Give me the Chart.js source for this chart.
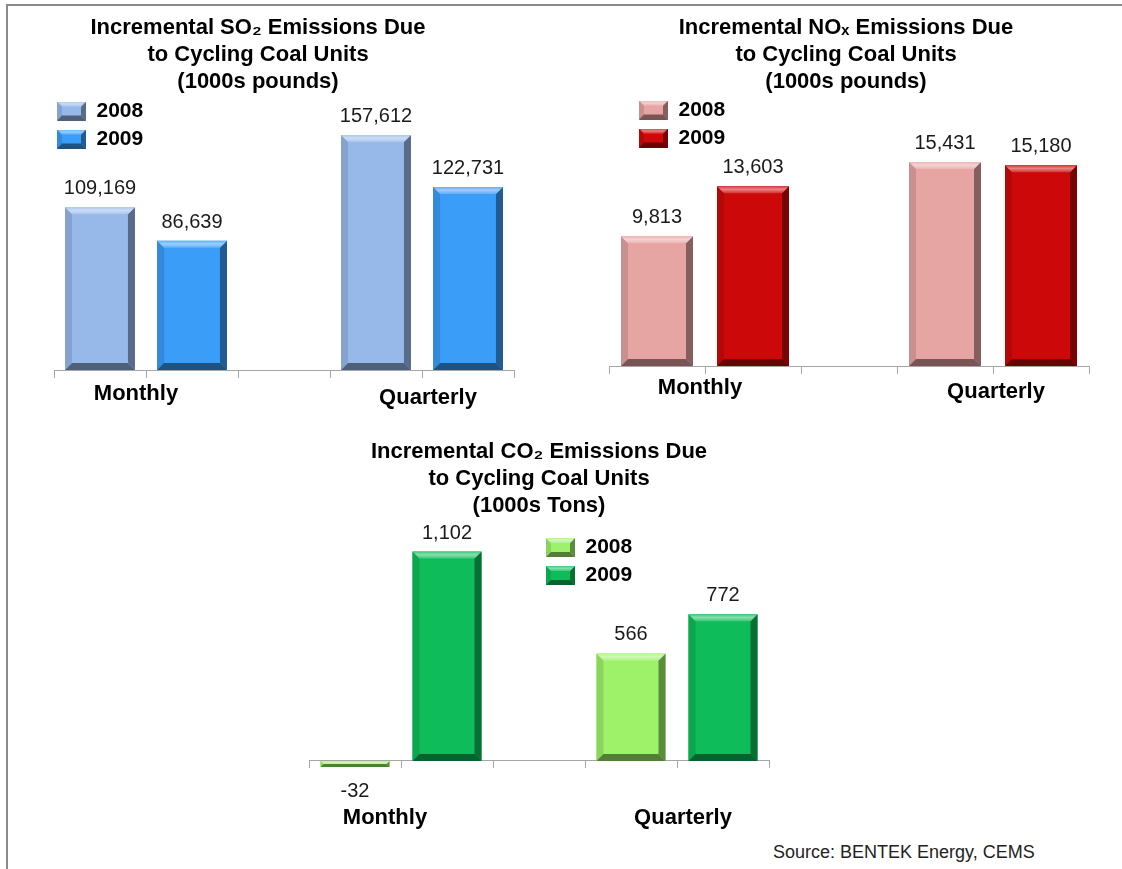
<!DOCTYPE html>
<html>
<head>
<meta charset="utf-8">
<script src="https://cdn.jsdelivr.net/npm/chart.js@4.4.0/dist/chart.umd.min.js"></script>
<style>
  body { margin: 0; background: #fff; }
  #page { position: relative; width: 1122px; height: 869px; overflow: hidden; background: #fff; }
  #frame { position: absolute; left: 6px; top: 4px; right: -10px; bottom: -10px;
           border-top: 2px solid #8a8a8a; border-left: 2px solid #8a8a8a; }
  canvas { position: absolute; }
  #source { position: absolute; left: 773px; top: 842px; font: 18px 'Liberation Sans', Arial, sans-serif; color: #222; }
</style>
</head>
<body>
<div id="page">
  <div id="frame"></div>
  <canvas id="so2Chart" width="540" height="420" style="left:0;top:0"></canvas>
  <canvas id="noxChart" width="540" height="420" style="left:560px;top:0"></canvas>
  <canvas id="co2Chart" width="540" height="420" style="left:280px;top:420px"></canvas>
  <div id="source">Source: BENTEK Energy, CEMS</div>
</div>
<script>
const FONT = "'Liberation Sans', Arial, sans-serif";

// x axis slots: a 2008 and a 2009 bar for each period, one empty slot between
const periods = ['Monthly', 'Quarterly'];
const years = ['2008', '2009'];
const slots = ['Monthly 2008', 'Monthly 2009', '', 'Quarterly 2008', 'Quarterly 2009'];

const so2Title = ['Incremental SO\u2082 Emissions Due', 'to Cycling Coal Units', '(1000s pounds)'];
const so2Values2008 = [109169, 157612];
const so2Values2009 = [86639, 122731];

const noxTitle = ['Incremental NO\u2093 Emissions Due', 'to Cycling Coal Units', '(1000s pounds)'];
const noxValues2008 = [9813, 15431];
const noxValues2009 = [13603, 15180];

const co2Title = ['Incremental CO\u2082 Emissions Due', 'to Cycling Coal Units', '(1000s Tons)'];
const co2Values2008 = [-32, 566];
const co2Values2009 = [1102, 772];

// put one value per period into its slot, other slots stay empty
function slotData(values, yearIndex) {
    const out = slots.map(() => null);
    values.forEach((v, k) => { out[k * 3 + yearIndex] = v; });
    return out;
}

function rgb(hex) {
    const n = parseInt(hex.slice(1), 16);
    return [(n >> 16) & 255, (n >> 8) & 255, n & 255];
}
// t > 0 goes toward white, t < 0 toward black
function shade(hex, t) {
    const c = rgb(hex).map(v => Math.round(t > 0 ? v + (255 - v) * t : v * (1 + t)));
    return 'rgb(' + c.join(',') + ')';
}

// bevelled edges on top of a flat bar
function drawBevel(ctx, x, y, w, h, face, size) {
    const b = Math.min(size, h / 2, w / 2);
    const L = x, R = x + w, T = y, B = y + h;
    const poly = (pts, fill) => {
        ctx.beginPath();
        ctx.moveTo(pts[0][0], pts[0][1]);
        pts.slice(1).forEach(p => ctx.lineTo(p[0], p[1]));
        ctx.closePath();
        ctx.fillStyle = fill;
        ctx.fill();
    };
    const g = ctx.createLinearGradient(0, T, 0, T + b);
    g.addColorStop(0, shade(face, 0.2));
    g.addColorStop(0.45, shade(face, 0.5));
    g.addColorStop(1, shade(face, 0.18));
    poly([[L, T], [L + b, T + b], [L + b, B - b], [L, B]], shade(face, -0.12));
    poly([[R, T], [R, B], [R - b, B - b], [R - b, T + b]], shade(face, -0.42));
    poly([[L, B], [R, B], [R - b, B - b], [L + b, B - b]], shade(face, -0.48));
    poly([[L, T], [R, T], [R - b, T + b], [L + b, T + b]], g);
}

function legendIcon(face) {
    const c = document.createElement('canvas');
    c.width = 29; c.height = 19;
    const ctx = c.getContext('2d');
    ctx.fillStyle = face;
    ctx.fillRect(0, 0, 29, 19);
    drawBevel(ctx, 0, 0, 29, 19, face, 5);
    return c;
}

const bevelBars = {
    id: 'bevelBars',
    afterDatasetsDraw(chart) {
        const ctx = chart.ctx;
        ctx.save();
        chart.data.datasets.forEach((ds, di) => {
            chart.getDatasetMeta(di).data.forEach((bar, i) => {
                if (ds.data[i] == null) return;
                const p = bar.getProps(['x', 'y', 'base', 'width'], true);
                drawBevel(ctx, p.x - p.width / 2, Math.min(p.y, p.base), p.width, Math.abs(p.base - p.y), ds.backgroundColor, 7);
            });
        });
        ctx.restore();
    }
};

const valueLabels = {
    id: 'valueLabels',
    afterDatasetsDraw(chart) {
        const ctx = chart.ctx;
        ctx.save();
        ctx.font = '20px ' + FONT;
        ctx.fillStyle = '#1a1a1a';
        ctx.textAlign = 'center';
        ctx.textBaseline = 'alphabetic';
        chart.data.datasets.forEach((ds, di) => {
            chart.getDatasetMeta(di).data.forEach((bar, i) => {
                const v = ds.data[i];
                if (v == null) return;
                const p = bar.getProps(['x', 'y'], true);
                ctx.fillText(v.toLocaleString('en-US'), p.x, v >= 0 ? p.y - 13 : p.y + 30);
            });
        });
        ctx.restore();
    }
};

// "Monthly" / "Quarterly" under each pair of bars
const periodLabels = {
    id: 'periodLabels',
    afterDraw(chart, args, opts) {
        const ctx = chart.ctx;
        const xs = chart.scales.x, ys = chart.scales.y;
        const y0 = ys.getPixelForValue(0);
        ctx.save();
        ctx.font = 'bold 22px ' + FONT;
        ctx.fillStyle = '#000';
        ctx.textAlign = 'center';
        ctx.textBaseline = 'middle';
        periods.forEach((name, k) => {
            const mid = (xs.getPixelForValue(k * 3) + xs.getPixelForValue(k * 3 + 1)) / 2;
            const [dx, dy] = opts.offsets[k];
            ctx.fillText(name, mid + dx, y0 + dy);
        });
        ctx.restore();
    }
};

// move the legend box to a fixed spot inside the plot
const legendAt = {
    id: 'legendAt',
    afterLayout(chart, args, opts) {
        const lg = chart.legend;
        if (!lg) return;
        const w = lg.width, h = lg.height;
        lg.left = opts.x; lg.top = opts.y;
        lg.right = opts.x + w; lg.bottom = opts.y + h;
    }
};

function emissionsChart(canvasId, cfg) {
    return new Chart(document.getElementById(canvasId), {
        type: 'bar',
        data: {
            labels: slots,
            datasets: [
                { label: years[0], data: slotData(cfg.values2008, 0), backgroundColor: cfg.colors[0] },
                { label: years[1], data: slotData(cfg.values2009, 1), backgroundColor: cfg.colors[1] }
            ]
        },
        options: {
            responsive: false,
            animation: false,
            layout: { padding: cfg.padding },
            datasets: {
                bar: { grouped: false, categoryPercentage: 1, barPercentage: cfg.barPct, borderWidth: 0 }
            },
            scales: {
                x: {
                    position: { y: 0 },
                    offset: true,
                    ticks: { display: false },
                    grid: { offset: true, drawOnChartArea: false, tickLength: 7, color: '#a6a6a6' },
                    border: { color: '#a6a6a6', width: 1 },
                    afterFit: s => { s.height = 0; }
                },
                y: {
                    min: cfg.yMin,
                    max: cfg.yMax,
                    ticks: { display: false },
                    grid: { display: false },
                    border: { display: false },
                    afterFit: s => { s.width = cfg.yAxisWidth; }
                }
            },
            plugins: {
                title: {
                    display: true,
                    text: cfg.title,
                    color: '#000',
                    font: { family: FONT, size: 22, weight: 'bold', lineHeight: '27px' },
                    padding: cfg.titlePad
                },
                legend: {
                    position: 'chartArea',
                    align: 'start',
                    labels: {
                        usePointStyle: true,
                        pointStyleWidth: 29,
                        boxHeight: 19,
                        padding: 7,
                        color: '#000',
                        font: { family: FONT, size: 21, weight: 'bold' },
                        generateLabels: chart => chart.data.datasets.map((ds, i) => ({
                            text: ds.label,
                            pointStyle: legendIcon(ds.backgroundColor),
                            datasetIndex: i,
                            hidden: false,
                            lineWidth: 0,
                            fontColor: '#000'
                        }))
                    }
                },
                tooltip: { enabled: false },
                legendAt: cfg.legendAt,
                periodLabels: { offsets: cfg.periodOffsets }
            }
        },
        plugins: [bevelBars, valueLabels, periodLabels, legendAt]
    });
}

emissionsChart('so2Chart', {
    title: so2Title,
    values2008: so2Values2008,
    values2009: so2Values2009,
    colors: ['#97B9EA', '#3A9DF8'],
    padding: { left: 2, right: 26, top: 0, bottom: 50 },
    yAxisWidth: 52,
    titlePad: { top: 14.5, bottom: 2.5 },
    yMin: 0,
    yMax: 182428,
    barPct: 0.76,
    legendAt: { x: 50, y: 93.5 },
    periodOffsets: [[-10, 24], [6, 27.5]]
});

emissionsChart('noxChart', {
    title: noxTitle,
    values2008: noxValues2008,
    values2009: noxValues2009,
    colors: ['#E6A4A2', '#CC0808'],
    padding: { left: 43, right: 11, top: 0, bottom: 54 },
    yAxisWidth: 6,
    titlePad: { top: 14.5, bottom: 2.5 },
    yMin: 0,
    yMax: 20272,
    barPct: 0.75,
    legendAt: { x: 72, y: 92.5 },
    periodOffsets: [[-5, 22], [3, 26]]
});

emissionsChart('co2Chart', {
    title: co2Title,
    values2008: co2Values2008,
    values2009: co2Values2009,
    colors: ['#9EF26A', '#0EBD5A'],
    padding: { left: 29, right: 51, top: 0, bottom: 60 },
    yAxisWidth: 0,
    titlePad: { top: 18.2, bottom: 1.8 },
    yMin: -100,
    yMax: 1263,
    barPct: 0.75,
    legendAt: { x: 259, y: 110 },
    periodOffsets: [[-16, 57], [6, 57]]
});
</script>
</body>
</html>
